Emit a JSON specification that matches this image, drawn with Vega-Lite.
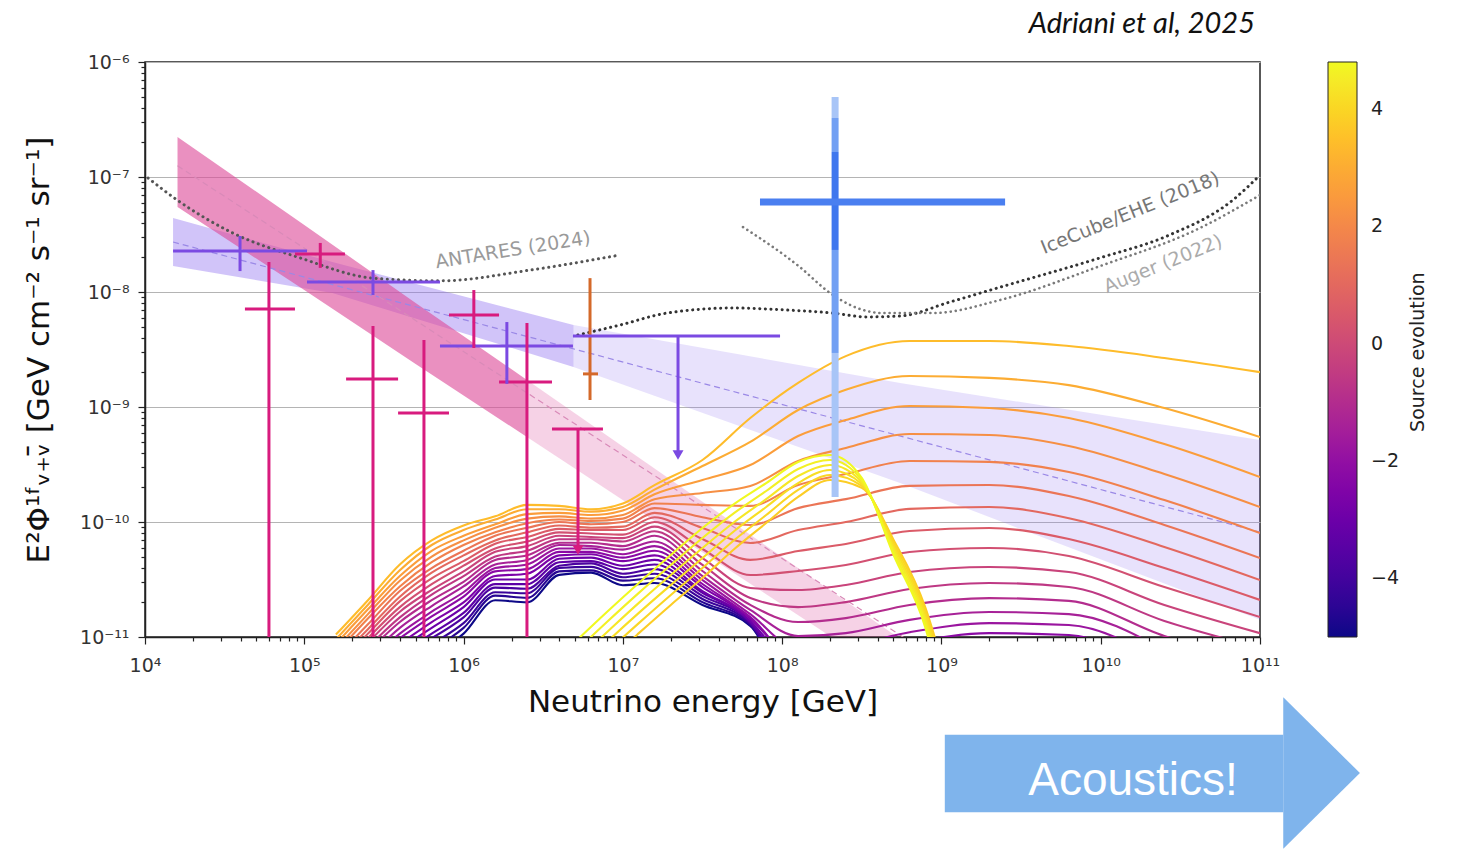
{
  "$schema": "https://vega.github.io/schema/vega-lite/v6.json",
  "width": 1115,
  "height": 575,
  "autosize": "none",
  "padding": {"left": 145, "top": 62, "right": 199, "bottom": 212},
  "background": "white",
  "title": {"text": "Adriani et al, 2025", "anchor": "end", "frame": "group", "font": "Lato", "fontStyle": "italic", "fontWeight": "normal", "fontSize": 29, "color": "#111", "offset": 14, "dx": -5},
  "config": {"view": {"stroke": "#222", "strokeWidth": 1.5}, "font": "DejaVu Sans"},
  "datasets": {
    "tracksFit": [
      {"e": 1.5e4, "lo": 1.68e-8, "hi": 4.40e-8},
      {"e": 1.5e5, "lo": 9.8e-9, "hi": 1.82e-8},
      {"e": 4.9e6, "lo": 2.23e-9, "hi": 5.16e-9}
    ],
    "tracksExt": [
      {"e": 4.9e6, "lo": 2.23e-9, "hi": 5.16e-9},
      {"e": 5.5e8, "lo": 2.18e-10, "hi": 1.62e-9},
      {"e": 1e11, "lo": 1.41e-11, "hi": 5.16e-10}
    ],
    "cascadeFit": [
      {"e": 1.6e4, "lo": 5.48e-8, "hi": 2.23e-7},
      {"e": 1e5, "lo": 1.04e-8, "hi": 3.83e-8},
      {"e": 5e5, "lo": 2.37e-9, "hi": 8.02e-9},
      {"e": 2.5e6, "lo": 5.48e-10, "hi": 1.72e-9}
    ],
    "cascadeExt": [
      {"e": 2.5e6, "lo": 5.48e-10, "hi": 1.72e-9},
      {"e": 3e7, "lo": 5.71e-11, "hi": 1.58e-10},
      {"e": 6e8, "lo": 3.75e-12, "hi": 8.87e-12}
    ],
    "tracksCenter": [{"e": 1.5e4, "f": 2.72e-8}, {"e": 1e11, "f": 8.18e-11}],
    "cascadeCenter": [{"e": 1.6e4, "f": 1.25e-7}, {"e": 6e8, "f": 9.6e-12}],
    "antares": [
      {"e": 1.045e4, "f": 9.8e-8}, {"e": 1.59e4, "f": 6.31e-8}, {"e": 3.56e4, "f": 3.26e-8},
      {"e": 9.4e4, "f": 1.98e-8}, {"e": 2.7e5, "f": 1.32e-8}, {"e": 7.11e5, "f": 1.25e-8},
      {"e": 2.61e6, "f": 1.55e-8}, {"e": 9.6e6, "f": 2.10e-8}
    ],
    "ehe": [
      {"e": 5.22e6, "f": 4.23e-9}, {"e": 9.6e6, "f": 5.16e-9}, {"e": 1.89e7, "f": 6.56e-9},
      {"e": 4.91e7, "f": 7.26e-9}, {"e": 1.07e8, "f": 6.97e-9}, {"e": 2.08e8, "f": 6.56e-9},
      {"e": 3.41e8, "f": 6.07e-9}, {"e": 5.5e8, "f": 6.18e-9}, {"e": 1.13e9, "f": 8.18e-9},
      {"e": 2.33e9, "f": 1.10e-8}, {"e": 9.9e9, "f": 1.98e-8}, {"e": 2.61e10, "f": 3.07e-8},
      {"e": 6.76e10, "f": 6.31e-8}, {"e": 1e11, "f": 1.04e-7}
    ],
    "auger": [
      {"e": 5.68e7, "f": 3.67e-8}, {"e": 1.29e8, "f": 1.65e-8}, {"e": 2.0e8, "f": 9.8e-9},
      {"e": 2.67e8, "f": 7.71e-9}, {"e": 4.3e8, "f": 6.56e-9}, {"e": 8.85e8, "f": 6.56e-9},
      {"e": 2.33e9, "f": 8.51e-9}, {"e": 9.9e9, "f": 1.68e-8}, {"e": 4.2e10, "f": 3.6e-8},
      {"e": 1e11, "f": 6.97e-8}
    ],
    "bars": [
      {"set": "tracks", "e": 3.95e4, "elo": 1.5e4, "ehi": 1.04e5, "f": 2.27e-8, "flo": 1.52e-8, "fhi": 3.07e-8},
      {"set": "tracks", "e": 2.7e5, "elo": 1.04e5, "ehi": 7.11e5, "f": 1.22e-8, "flo": 9.42e-9, "fhi": 1.55e-8},
      {"set": "tracks", "e": 1.87e6, "elo": 7.11e5, "ehi": 4.86e6, "f": 3.39e-9, "flo": 1.59e-9, "fhi": 5.48e-9},
      {"set": "cascades", "e": 6.0e4, "elo": 4.24e4, "ehi": 8.74e4, "f": 7.12e-9, "flo": 1e-11, "fhi": 1.82e-8},
      {"set": "cascades", "e": 1.26e5, "elo": 8.74e4, "ehi": 1.8e5, "f": 2.14e-8, "flo": 1.62e-8, "fhi": 2.67e-8},
      {"set": "cascades", "e": 2.7e5, "elo": 1.83e5, "ehi": 3.88e5, "f": 1.75e-9, "flo": 1e-11, "fhi": 5.06e-9},
      {"set": "cascades", "e": 5.64e5, "elo": 3.88e5, "ehi": 8.1e5, "f": 8.87e-10, "flo": 1e-11, "fhi": 3.82e-9},
      {"set": "cascades", "e": 1.16e6, "elo": 8.1e5, "ehi": 1.67e6, "f": 6.31e-9, "flo": 3.26e-9, "fhi": 1.04e-8},
      {"set": "cascades", "e": 2.5e6, "elo": 1.67e6, "ehi": 3.59e6, "f": 1.65e-9, "flo": 1e-11, "fhi": 5.37e-9},
      {"set": "combined", "e": 6.22e6, "elo": 5.62e6, "ehi": 6.98e6, "f": 1.94e-9, "flo": 1.15e-9, "fhi": 1.32e-8}
    ],
    "upperLimits": [
      {"set": "tracks", "e": 2.22e7, "elo": 4.86e6, "ehi": 9.7e7, "f": 4.14e-9, "fend": 3.83e-10},
      {"set": "cascades", "e": 5.23e6, "elo": 3.59e6, "ehi": 7.5e6, "f": 6.44e-10, "fend": 5.71e-11}
    ],
    "event": [{"e": 2.15e8, "elo": 7.26e7, "ehi": 2.51e9, "f": 6.06e-8}],
    "eventRange": [
      {"e": 2.15e8, "flo": 3.26e-7, "fhi": 4.96e-7, "cl": "3σ"},
      {"e": 2.15e8, "flo": 1.65e-7, "fhi": 3.26e-7, "cl": "2σ"},
      {"e": 2.15e8, "flo": 2.32e-8, "fhi": 1.65e-7, "cl": "1σ"},
      {"e": 2.15e8, "flo": 2.95e-9, "fhi": 2.32e-8, "cl": "2σ"},
      {"e": 2.15e8, "flo": 1.65e-10, "fhi": 2.95e-9, "cl": "3σ"}
    ],
    "arrowBody": [{"e0": 1.05e9, "e1": 1.4e11, "f0": 3.0e-13, "f1": 1.41e-12}],
    "arrowHead": [{"e": 1.4e11, "lo": 1.44e-13, "hi": 3.0e-12}, {"e": 4.24e11, "lo": 6.56e-13, "hi": 6.56e-13}],
    "arrowText": [{"e": 1.595e10, "f": 4.23e-13, "text": "Acoustics!"}],
    "colorbarTitle": [{"e": 9.8e11, "f": 3.0e-9, "text": "Source evolution"}],
    "models": [
      {"m": -5, "e": 6.31e5, "f": 6.92e-12}, {"m": -5, "e": 1e6, "f": 1.07e-11}, {"m": -5, "e": 1.58e6, "f": 2.09e-11}, {"m": -5, "e": 2.51e6, "f": 2.00e-11}, {"m": -5, "e": 3.98e6, "f": 3.47e-11}, {"m": -5, "e": 6.31e6, "f": 3.63e-11}, {"m": -5, "e": 1e7, "f": 2.82e-11}, {"m": -5, "e": 1.58e7, "f": 2.95e-11}, {"m": -5, "e": 3.16e7, "f": 1.90e-11}, {"m": -5, "e": 6.31e7, "f": 1.25e-11}, {"m": -5, "e": 1.26e8, "f": 9.06e-13},
      {"m": -4.6, "e": 6.31e5, "f": 7.76e-12}, {"m": -4.6, "e": 1e6, "f": 1.20e-11}, {"m": -4.6, "e": 1.58e6, "f": 2.29e-11}, {"m": -4.6, "e": 2.51e6, "f": 2.19e-11}, {"m": -4.6, "e": 3.98e6, "f": 3.72e-11}, {"m": -4.6, "e": 6.31e6, "f": 3.80e-11}, {"m": -4.6, "e": 1e7, "f": 3.09e-11}, {"m": -4.6, "e": 1.58e7, "f": 3.24e-11}, {"m": -4.6, "e": 3.16e7, "f": 2.01e-11}, {"m": -4.6, "e": 6.31e7, "f": 1.27e-11}, {"m": -4.6, "e": 1.26e8, "f": 1.22e-12},
      {"m": -4.2, "e": 6.31e5, "f": 8.71e-12}, {"m": -4.2, "e": 1e6, "f": 1.32e-11}, {"m": -4.2, "e": 1.58e6, "f": 2.45e-11}, {"m": -4.2, "e": 2.51e6, "f": 2.40e-11}, {"m": -4.2, "e": 3.98e6, "f": 3.98e-11}, {"m": -4.2, "e": 6.31e6, "f": 4.07e-11}, {"m": -4.2, "e": 1e7, "f": 3.31e-11}, {"m": -4.2, "e": 1.58e7, "f": 3.55e-11}, {"m": -4.2, "e": 3.16e7, "f": 2.14e-11}, {"m": -4.2, "e": 6.31e7, "f": 1.30e-11}, {"m": -4.2, "e": 1.26e8, "f": 1.62e-12},
      {"m": -3.8, "e": 6.31e5, "f": 9.77e-12}, {"m": -3.8, "e": 1e6, "f": 1.48e-11}, {"m": -3.8, "e": 1.58e6, "f": 2.69e-11}, {"m": -3.8, "e": 2.51e6, "f": 2.63e-11}, {"m": -3.8, "e": 3.98e6, "f": 4.17e-11}, {"m": -3.8, "e": 6.31e6, "f": 4.37e-11}, {"m": -3.8, "e": 1e7, "f": 3.55e-11}, {"m": -3.8, "e": 1.58e7, "f": 3.89e-11}, {"m": -3.8, "e": 3.16e7, "f": 2.28e-11}, {"m": -3.8, "e": 6.31e7, "f": 1.32e-11}, {"m": -3.8, "e": 1.26e8, "f": 2.14e-12},
      {"m": -3.4, "e": 3.98e5, "f": 7.08e-12}, {"m": -3.4, "e": 6.31e5, "f": 1.07e-11}, {"m": -3.4, "e": 1e6, "f": 1.62e-11}, {"m": -3.4, "e": 1.58e6, "f": 2.88e-11}, {"m": -3.4, "e": 2.51e6, "f": 2.88e-11}, {"m": -3.4, "e": 3.98e6, "f": 4.47e-11}, {"m": -3.4, "e": 6.31e6, "f": 4.57e-11}, {"m": -3.4, "e": 1e7, "f": 3.89e-11}, {"m": -3.4, "e": 1.58e7, "f": 4.27e-11}, {"m": -3.4, "e": 3.16e7, "f": 2.42e-11}, {"m": -3.4, "e": 6.31e7, "f": 1.35e-11}, {"m": -3.4, "e": 1.26e8, "f": 2.83e-12},
      {"m": -3, "e": 3.98e5, "f": 7.94e-12}, {"m": -3, "e": 6.31e5, "f": 1.20e-11}, {"m": -3, "e": 1e6, "f": 1.82e-11}, {"m": -3, "e": 1.58e6, "f": 3.16e-11}, {"m": -3, "e": 2.51e6, "f": 3.16e-11}, {"m": -3, "e": 3.98e6, "f": 4.79e-11}, {"m": -3, "e": 6.31e6, "f": 4.90e-11}, {"m": -3, "e": 1e7, "f": 4.17e-11}, {"m": -3, "e": 1.58e7, "f": 4.68e-11}, {"m": -3, "e": 3.16e7, "f": 2.51e-11}, {"m": -3, "e": 6.31e7, "f": 1.38e-11}, {"m": -3, "e": 1.26e8, "f": 3.75e-12},
      {"m": -2.6, "e": 3.98e5, "f": 8.71e-12}, {"m": -2.6, "e": 6.31e5, "f": 1.35e-11}, {"m": -2.6, "e": 1e6, "f": 2.00e-11}, {"m": -2.6, "e": 1.58e6, "f": 3.39e-11}, {"m": -2.6, "e": 2.51e6, "f": 3.55e-11}, {"m": -2.6, "e": 3.98e6, "f": 5.13e-11}, {"m": -2.6, "e": 6.31e6, "f": 5.25e-11}, {"m": -2.6, "e": 1e7, "f": 4.57e-11}, {"m": -2.6, "e": 1.58e7, "f": 5.13e-11}, {"m": -2.6, "e": 3.16e7, "f": 2.72e-11}, {"m": -2.6, "e": 6.31e7, "f": 1.44e-11}, {"m": -2.6, "e": 1.26e8, "f": 4.86e-12},
      {"m": -2.2, "e": 3.98e5, "f": 9.77e-12}, {"m": -2.2, "e": 6.31e5, "f": 1.51e-11}, {"m": -2.2, "e": 1e6, "f": 2.24e-11}, {"m": -2.2, "e": 1.58e6, "f": 3.72e-11}, {"m": -2.2, "e": 2.51e6, "f": 3.89e-11}, {"m": -2.2, "e": 3.98e6, "f": 5.50e-11}, {"m": -2.2, "e": 6.31e6, "f": 5.50e-11}, {"m": -2.2, "e": 1e7, "f": 4.90e-11}, {"m": -2.2, "e": 1.58e7, "f": 5.62e-11}, {"m": -2.2, "e": 3.16e7, "f": 2.89e-11}, {"m": -2.2, "e": 6.31e7, "f": 1.49e-11}, {"m": -2.2, "e": 1.26e8, "f": 6.18e-12}, {"m": -2.2, "e": 2.51e8, "f": 6.56e-12}, {"m": -2.2, "e": 6.31e8, "f": 8.87e-12}, {"m": -2.2, "e": 2e9, "f": 1.08e-11}, {"m": -2.2, "e": 6.31e9, "f": 1.04e-11}, {"m": -2.2, "e": 2.51e10, "f": 4.68e-12},
      {"m": -1.8, "e": 2.51e5, "f": 6.03e-12}, {"m": -1.8, "e": 3.98e5, "f": 1.07e-11}, {"m": -1.8, "e": 6.31e5, "f": 1.66e-11}, {"m": -1.8, "e": 1e6, "f": 2.45e-11}, {"m": -1.8, "e": 1.58e6, "f": 3.98e-11}, {"m": -1.8, "e": 2.51e6, "f": 4.27e-11}, {"m": -1.8, "e": 3.98e6, "f": 5.89e-11}, {"m": -1.8, "e": 6.31e6, "f": 5.89e-11}, {"m": -1.8, "e": 1e7, "f": 5.25e-11}, {"m": -1.8, "e": 1.58e7, "f": 6.17e-11}, {"m": -1.8, "e": 3.16e7, "f": 3.13e-11}, {"m": -1.8, "e": 6.31e7, "f": 1.58e-11}, {"m": -1.8, "e": 1.26e8, "f": 7.87e-12}, {"m": -1.8, "e": 2.51e8, "f": 8.36e-12}, {"m": -1.8, "e": 6.31e8, "f": 1.10e-11}, {"m": -1.8, "e": 2e9, "f": 1.32e-11}, {"m": -1.8, "e": 6.31e9, "f": 1.27e-11}, {"m": -1.8, "e": 2.51e10, "f": 5.94e-12},
      {"m": -1.4, "e": 2.51e5, "f": 6.61e-12}, {"m": -1.4, "e": 3.98e5, "f": 1.20e-11}, {"m": -1.4, "e": 6.31e5, "f": 1.86e-11}, {"m": -1.4, "e": 1e6, "f": 2.75e-11}, {"m": -1.4, "e": 1.58e6, "f": 4.27e-11}, {"m": -1.4, "e": 2.51e6, "f": 4.68e-11}, {"m": -1.4, "e": 3.98e6, "f": 6.31e-11}, {"m": -1.4, "e": 6.31e6, "f": 6.17e-11}, {"m": -1.4, "e": 1e7, "f": 5.75e-11}, {"m": -1.4, "e": 1.58e7, "f": 6.76e-11}, {"m": -1.4, "e": 3.16e7, "f": 3.39e-11}, {"m": -1.4, "e": 6.31e7, "f": 1.72e-11}, {"m": -1.4, "e": 1.26e8, "f": 1.02e-11}, {"m": -1.4, "e": 2.51e8, "f": 1.08e-11}, {"m": -1.4, "e": 6.31e8, "f": 1.41e-11}, {"m": -1.4, "e": 2e9, "f": 1.65e-11}, {"m": -1.4, "e": 6.31e9, "f": 1.58e-11}, {"m": -1.4, "e": 2.51e10, "f": 7.71e-12},
      {"m": -1, "e": 2.51e5, "f": 7.41e-12}, {"m": -1, "e": 3.98e5, "f": 1.35e-11}, {"m": -1, "e": 6.31e5, "f": 2.09e-11}, {"m": -1, "e": 1e6, "f": 3.02e-11}, {"m": -1, "e": 1.58e6, "f": 4.68e-11}, {"m": -1, "e": 2.51e6, "f": 5.13e-11}, {"m": -1, "e": 3.98e6, "f": 6.61e-11}, {"m": -1, "e": 6.31e6, "f": 6.61e-11}, {"m": -1, "e": 1e7, "f": 6.17e-11}, {"m": -1, "e": 1.58e7, "f": 7.59e-11}, {"m": -1, "e": 3.16e7, "f": 3.75e-11}, {"m": -1, "e": 6.31e7, "f": 1.90e-11}, {"m": -1, "e": 1.26e8, "f": 1.35e-11}, {"m": -1, "e": 2.51e8, "f": 1.46e-11}, {"m": -1, "e": 6.31e8, "f": 1.90e-11}, {"m": -1, "e": 2e9, "f": 2.18e-11}, {"m": -1, "e": 6.31e9, "f": 2.06e-11}, {"m": -1, "e": 2.51e10, "f": 1.02e-11}, {"m": -1, "e": 1e11, "f": 6.07e-12},
      {"m": -0.6, "e": 2.51e5, "f": 8.13e-12}, {"m": -0.6, "e": 3.98e5, "f": 1.48e-11}, {"m": -0.6, "e": 6.31e5, "f": 2.34e-11}, {"m": -0.6, "e": 1e6, "f": 3.39e-11}, {"m": -0.6, "e": 1.58e6, "f": 5.01e-11}, {"m": -0.6, "e": 2.51e6, "f": 5.62e-11}, {"m": -0.6, "e": 3.98e6, "f": 7.08e-11}, {"m": -0.6, "e": 6.31e6, "f": 7.08e-11}, {"m": -0.6, "e": 1e7, "f": 6.76e-11}, {"m": -0.6, "e": 1.58e7, "f": 8.32e-11}, {"m": -0.6, "e": 3.16e7, "f": 4.23e-11}, {"m": -0.6, "e": 6.31e7, "f": 2.18e-11}, {"m": -0.6, "e": 1.26e8, "f": 1.82e-11}, {"m": -0.6, "e": 2.51e8, "f": 2.01e-11}, {"m": -0.6, "e": 6.31e8, "f": 2.61e-11}, {"m": -0.6, "e": 2e9, "f": 2.95e-11}, {"m": -0.6, "e": 6.31e9, "f": 2.72e-11}, {"m": -0.6, "e": 2.51e10, "f": 1.38e-11}, {"m": -0.6, "e": 1e11, "f": 8.02e-12},
      {"m": -0.2, "e": 2.51e5, "f": 8.91e-12}, {"m": -0.2, "e": 3.98e5, "f": 1.66e-11}, {"m": -0.2, "e": 6.31e5, "f": 2.57e-11}, {"m": -0.2, "e": 1e6, "f": 3.72e-11}, {"m": -0.2, "e": 1.58e6, "f": 5.50e-11}, {"m": -0.2, "e": 2.51e6, "f": 6.17e-11}, {"m": -0.2, "e": 3.98e6, "f": 7.59e-11}, {"m": -0.2, "e": 6.31e6, "f": 7.41e-11}, {"m": -0.2, "e": 1e7, "f": 7.24e-11}, {"m": -0.2, "e": 1.58e7, "f": 9.12e-11}, {"m": -0.2, "e": 3.16e7, "f": 4.86e-11}, {"m": -0.2, "e": 6.31e7, "f": 2.67e-11}, {"m": -0.2, "e": 1.26e8, "f": 2.56e-11}, {"m": -0.2, "e": 2.51e8, "f": 2.83e-11}, {"m": -0.2, "e": 6.31e8, "f": 3.67e-11}, {"m": -0.2, "e": 2e9, "f": 4.06e-11}, {"m": -0.2, "e": 6.31e9, "f": 3.67e-11}, {"m": -0.2, "e": 2.51e10, "f": 1.90e-11}, {"m": -0.2, "e": 1e11, "f": 1.08e-11},
      {"m": 0.2, "e": 2.51e5, "f": 9.77e-12}, {"m": 0.2, "e": 3.98e5, "f": 1.82e-11}, {"m": 0.2, "e": 6.31e5, "f": 2.88e-11}, {"m": 0.2, "e": 1e6, "f": 4.17e-11}, {"m": 0.2, "e": 1.58e6, "f": 5.89e-11}, {"m": 0.2, "e": 2.51e6, "f": 6.76e-11}, {"m": 0.2, "e": 3.98e6, "f": 8.13e-11}, {"m": 0.2, "e": 6.31e6, "f": 7.94e-11}, {"m": 0.2, "e": 1e7, "f": 7.76e-11}, {"m": 0.2, "e": 1.58e7, "f": 1.00e-10}, {"m": 0.2, "e": 3.16e7, "f": 5.82e-11}, {"m": 0.2, "e": 6.31e7, "f": 3.46e-11}, {"m": 0.2, "e": 1.26e8, "f": 3.75e-11}, {"m": 0.2, "e": 2.51e8, "f": 4.23e-11}, {"m": 0.2, "e": 6.31e8, "f": 5.48e-11}, {"m": 0.2, "e": 2e9, "f": 5.94e-11}, {"m": 0.2, "e": 6.31e9, "f": 5.06e-11}, {"m": 0.2, "e": 2.51e10, "f": 2.72e-11}, {"m": 0.2, "e": 1e11, "f": 1.49e-11},
      {"m": 0.6, "e": 1.58e5, "f": 5.50e-12}, {"m": 0.6, "e": 2.51e5, "f": 1.07e-11}, {"m": 0.6, "e": 3.98e5, "f": 2.04e-11}, {"m": 0.6, "e": 6.31e5, "f": 3.24e-11}, {"m": 0.6, "e": 1e6, "f": 4.57e-11}, {"m": 0.6, "e": 1.58e6, "f": 6.46e-11}, {"m": 0.6, "e": 2.51e6, "f": 7.41e-11}, {"m": 0.6, "e": 3.98e6, "f": 8.71e-11}, {"m": 0.6, "e": 6.31e6, "f": 8.51e-11}, {"m": 0.6, "e": 1e7, "f": 8.51e-11}, {"m": 0.6, "e": 1.58e7, "f": 1.10e-10}, {"m": 0.6, "e": 3.16e7, "f": 7.11e-11}, {"m": 0.6, "e": 6.31e7, "f": 4.68e-11}, {"m": 0.6, "e": 1.26e8, "f": 5.60e-11}, {"m": 0.6, "e": 2.51e8, "f": 6.44e-11}, {"m": 0.6, "e": 6.31e8, "f": 8.36e-11}, {"m": 0.6, "e": 2e9, "f": 8.87e-11}, {"m": 0.6, "e": 6.31e9, "f": 7.11e-11}, {"m": 0.6, "e": 2.51e10, "f": 3.98e-11}, {"m": 0.6, "e": 1e11, "f": 2.10e-11},
      {"m": 1, "e": 1.58e5, "f": 6.03e-12}, {"m": 1, "e": 2.51e5, "f": 1.17e-11}, {"m": 1, "e": 3.98e5, "f": 2.24e-11}, {"m": 1, "e": 6.31e5, "f": 3.63e-11}, {"m": 1, "e": 1e6, "f": 5.13e-11}, {"m": 1, "e": 1.58e6, "f": 6.92e-11}, {"m": 1, "e": 2.51e6, "f": 8.13e-11}, {"m": 1, "e": 3.98e6, "f": 9.33e-11}, {"m": 1, "e": 6.31e6, "f": 8.91e-11}, {"m": 1, "e": 1e7, "f": 9.12e-11}, {"m": 1, "e": 1.58e7, "f": 1.20e-10}, {"m": 1, "e": 3.16e7, "f": 8.87e-11}, {"m": 1, "e": 6.31e7, "f": 6.56e-11}, {"m": 1, "e": 1.26e8, "f": 8.51e-11}, {"m": 1, "e": 2.51e8, "f": 1.00e-10}, {"m": 1, "e": 6.31e8, "f": 1.30e-10}, {"m": 1, "e": 2e9, "f": 1.35e-10}, {"m": 1, "e": 6.31e9, "f": 1.08e-10}, {"m": 1, "e": 2.51e10, "f": 6.07e-11}, {"m": 1, "e": 1e11, "f": 3.13e-11},
      {"m": 1.4, "e": 1.58e5, "f": 6.61e-12}, {"m": 1.4, "e": 2.51e5, "f": 1.29e-11}, {"m": 1.4, "e": 3.98e5, "f": 2.51e-11}, {"m": 1.4, "e": 6.31e5, "f": 3.98e-11}, {"m": 1.4, "e": 1e6, "f": 5.62e-11}, {"m": 1.4, "e": 1.58e6, "f": 7.59e-11}, {"m": 1.4, "e": 2.51e6, "f": 8.91e-11}, {"m": 1.4, "e": 3.98e6, "f": 1.00e-10}, {"m": 1.4, "e": 6.31e6, "f": 9.55e-11}, {"m": 1.4, "e": 1e7, "f": 1.00e-10}, {"m": 1.4, "e": 1.58e7, "f": 1.32e-10}, {"m": 1.4, "e": 3.16e7, "f": 1.10e-10}, {"m": 1.4, "e": 6.31e7, "f": 9.42e-11}, {"m": 1.4, "e": 1.26e8, "f": 1.32e-10}, {"m": 1.4, "e": 2.51e8, "f": 1.58e-10}, {"m": 1.4, "e": 6.31e8, "f": 2.06e-10}, {"m": 1.4, "e": 2e9, "f": 2.10e-10}, {"m": 1.4, "e": 6.31e9, "f": 1.68e-10}, {"m": 1.4, "e": 2.51e10, "f": 9.42e-11}, {"m": 1.4, "e": 1e11, "f": 4.86e-11},
      {"m": 1.8, "e": 1.58e5, "f": 7.24e-12}, {"m": 1.8, "e": 2.51e5, "f": 1.45e-11}, {"m": 1.8, "e": 3.98e5, "f": 2.75e-11}, {"m": 1.8, "e": 6.31e5, "f": 4.47e-11}, {"m": 1.8, "e": 1e6, "f": 6.31e-11}, {"m": 1.8, "e": 1.58e6, "f": 8.13e-11}, {"m": 1.8, "e": 2.51e6, "f": 9.77e-11}, {"m": 1.8, "e": 3.98e6, "f": 1.05e-10}, {"m": 1.8, "e": 6.31e6, "f": 1.02e-10}, {"m": 1.8, "e": 1e7, "f": 1.07e-10}, {"m": 1.8, "e": 1.58e7, "f": 1.45e-10}, {"m": 1.8, "e": 3.16e7, "f": 1.41e-10}, {"m": 1.8, "e": 6.31e7, "f": 1.38e-10}, {"m": 1.8, "e": 1.26e8, "f": 2.10e-10}, {"m": 1.8, "e": 2.51e8, "f": 2.61e-10}, {"m": 1.8, "e": 6.31e8, "f": 3.39e-10}, {"m": 1.8, "e": 2e9, "f": 3.33e-10}, {"m": 1.8, "e": 6.31e9, "f": 2.72e-10}, {"m": 1.8, "e": 2.51e10, "f": 1.55e-10}, {"m": 1.8, "e": 1e11, "f": 8.02e-11},
      {"m": 2.2, "e": 1.58e5, "f": 7.94e-12}, {"m": 2.2, "e": 2.51e5, "f": 1.58e-11}, {"m": 2.2, "e": 3.98e5, "f": 3.09e-11}, {"m": 2.2, "e": 6.31e5, "f": 5.01e-11}, {"m": 2.2, "e": 1e6, "f": 6.92e-11}, {"m": 2.2, "e": 1.58e6, "f": 8.91e-11}, {"m": 2.2, "e": 2.51e6, "f": 1.07e-10}, {"m": 2.2, "e": 3.98e6, "f": 1.12e-10}, {"m": 2.2, "e": 6.31e6, "f": 1.07e-10}, {"m": 2.2, "e": 1e7, "f": 1.15e-10}, {"m": 2.2, "e": 1.58e7, "f": 1.58e-10}, {"m": 2.2, "e": 3.16e7, "f": 1.79e-10}, {"m": 2.2, "e": 6.31e7, "f": 2.06e-10}, {"m": 2.2, "e": 1.26e8, "f": 3.39e-10}, {"m": 2.2, "e": 2.51e8, "f": 4.40e-10}, {"m": 2.2, "e": 6.31e8, "f": 5.82e-10}, {"m": 2.2, "e": 2e9, "f": 5.71e-10}, {"m": 2.2, "e": 6.31e9, "f": 4.58e-10}, {"m": 2.2, "e": 2.51e10, "f": 2.61e-10}, {"m": 2.2, "e": 1e11, "f": 1.35e-10},
      {"m": 2.6, "e": 1.58e5, "f": 8.71e-12}, {"m": 2.6, "e": 2.51e5, "f": 1.74e-11}, {"m": 2.6, "e": 3.98e5, "f": 3.39e-11}, {"m": 2.6, "e": 6.31e5, "f": 5.62e-11}, {"m": 2.6, "e": 1e6, "f": 7.59e-11}, {"m": 2.6, "e": 1.58e6, "f": 9.55e-11}, {"m": 2.6, "e": 2.51e6, "f": 1.17e-10}, {"m": 2.6, "e": 3.98e6, "f": 1.20e-10}, {"m": 2.6, "e": 6.31e6, "f": 1.15e-10}, {"m": 2.6, "e": 1e7, "f": 1.26e-10}, {"m": 2.6, "e": 1.58e7, "f": 1.74e-10}, {"m": 2.6, "e": 3.16e7, "f": 2.32e-10}, {"m": 2.6, "e": 6.31e7, "f": 3.13e-10}, {"m": 2.6, "e": 1.26e8, "f": 5.60e-10}, {"m": 2.6, "e": 2.51e8, "f": 7.71e-10}, {"m": 2.6, "e": 6.31e8, "f": 1.02e-9}, {"m": 2.6, "e": 2e9, "f": 9.79e-10}, {"m": 2.6, "e": 6.31e9, "f": 8.02e-10}, {"m": 2.6, "e": 2.51e10, "f": 4.76e-10}, {"m": 2.6, "e": 1e11, "f": 2.46e-10},
      {"m": 3, "e": 1.58e5, "f": 9.55e-12}, {"m": 3, "e": 2.51e5, "f": 1.91e-11}, {"m": 3, "e": 3.98e5, "f": 3.80e-11}, {"m": 3, "e": 6.31e5, "f": 6.31e-11}, {"m": 3, "e": 1e6, "f": 8.51e-11}, {"m": 3, "e": 1.58e6, "f": 1.05e-10}, {"m": 3, "e": 2.51e6, "f": 1.29e-10}, {"m": 3, "e": 3.98e6, "f": 1.29e-10}, {"m": 3, "e": 6.31e6, "f": 1.23e-10}, {"m": 3, "e": 1e7, "f": 1.35e-10}, {"m": 3, "e": 1.58e7, "f": 1.91e-10}, {"m": 3, "e": 3.16e7, "f": 3.07e-10}, {"m": 3, "e": 6.31e7, "f": 4.97e-10}, {"m": 3, "e": 1.26e8, "f": 9.42e-10}, {"m": 3, "e": 2.51e8, "f": 1.41e-9}, {"m": 3, "e": 6.31e8, "f": 1.86e-9}, {"m": 3, "e": 2e9, "f": 1.79e-9}, {"m": 3, "e": 6.31e9, "f": 1.55e-9}, {"m": 3, "e": 2.51e10, "f": 9.79e-10}, {"m": 3, "e": 1e11, "f": 5.48e-10},
      {"m": 3.4, "e": 1.58e5, "f": 1.05e-11}, {"m": 3.4, "e": 2.51e5, "f": 2.09e-11}, {"m": 3.4, "e": 3.98e5, "f": 4.27e-11}, {"m": 3.4, "e": 6.31e5, "f": 6.92e-11}, {"m": 3.4, "e": 1e6, "f": 9.33e-11}, {"m": 3.4, "e": 1.58e6, "f": 1.12e-10}, {"m": 3.4, "e": 2.51e6, "f": 1.41e-10}, {"m": 3.4, "e": 3.98e6, "f": 1.38e-10}, {"m": 3.4, "e": 6.31e6, "f": 1.29e-10}, {"m": 3.4, "e": 1e7, "f": 1.45e-10}, {"m": 3.4, "e": 1.58e7, "f": 2.09e-10}, {"m": 3.4, "e": 3.16e7, "f": 3.46e-10}, {"m": 3.4, "e": 6.31e7, "f": 8.02e-10}, {"m": 3.4, "e": 1.26e8, "f": 1.62e-9}, {"m": 3.4, "e": 2.51e8, "f": 2.77e-9}, {"m": 3.4, "e": 6.31e8, "f": 3.75e-9}, {"m": 3.4, "e": 2e9, "f": 3.75e-9}, {"m": 3.4, "e": 6.31e9, "f": 3.39e-9}, {"m": 3.4, "e": 2.51e10, "f": 2.67e-9}, {"m": 3.4, "e": 1e11, "f": 2.01e-9},
      {"m": 3.8, "e": 5.01e6, "f": 3.33e-12}, {"m": 3.8, "e": 7.94e6, "f": 6.07e-12}, {"m": 3.8, "e": 1.26e7, "f": 1.08e-11}, {"m": 3.8, "e": 2e7, "f": 1.90e-11}, {"m": 3.8, "e": 3.16e7, "f": 3.26e-11}, {"m": 3.8, "e": 5.01e7, "f": 5.82e-11}, {"m": 3.8, "e": 7.94e7, "f": 9.79e-11}, {"m": 3.8, "e": 1.26e8, "f": 1.65e-10}, {"m": 3.8, "e": 2e8, "f": 2.32e-10}, {"m": 3.8, "e": 3.16e8, "f": 1.98e-10}, {"m": 3.8, "e": 5.01e8, "f": 6.97e-11}, {"m": 3.8, "e": 7.94e8, "f": 1.79e-11}, {"m": 3.8, "e": 1e9, "f": 6.31e-12},
      {"m": 4, "e": 5.01e6, "f": 4.06e-12}, {"m": 4, "e": 7.94e6, "f": 7.41e-12}, {"m": 4, "e": 1.26e7, "f": 1.32e-11}, {"m": 4, "e": 2e7, "f": 2.32e-11}, {"m": 4, "e": 3.16e7, "f": 3.98e-11}, {"m": 4, "e": 5.01e7, "f": 6.97e-11}, {"m": 4, "e": 7.94e7, "f": 1.15e-10}, {"m": 4, "e": 1.26e8, "f": 1.90e-10}, {"m": 4, "e": 2e8, "f": 2.56e-10}, {"m": 4, "e": 3.16e8, "f": 2.06e-10}, {"m": 4, "e": 5.01e8, "f": 6.56e-11}, {"m": 4, "e": 7.94e8, "f": 1.65e-11}, {"m": 4, "e": 1e9, "f": 5.60e-12},
      {"m": 4.2, "e": 5.01e6, "f": 4.96e-12}, {"m": 4.2, "e": 7.94e6, "f": 9.05e-12}, {"m": 4.2, "e": 1.26e7, "f": 1.62e-11}, {"m": 4.2, "e": 2e7, "f": 2.83e-11}, {"m": 4.2, "e": 3.16e7, "f": 4.86e-11}, {"m": 4.2, "e": 5.01e7, "f": 8.36e-11}, {"m": 4.2, "e": 7.94e7, "f": 1.35e-10}, {"m": 4.2, "e": 1.26e8, "f": 2.18e-10}, {"m": 4.2, "e": 2e8, "f": 2.83e-10}, {"m": 4.2, "e": 3.16e8, "f": 2.14e-10}, {"m": 4.2, "e": 5.01e8, "f": 6.18e-11}, {"m": 4.2, "e": 7.94e8, "f": 1.52e-11}, {"m": 4.2, "e": 1e9, "f": 4.96e-12},
      {"m": 4.4, "e": 5.01e6, "f": 6.07e-12}, {"m": 4.4, "e": 7.94e6, "f": 1.10e-11}, {"m": 4.4, "e": 1.26e7, "f": 1.98e-11}, {"m": 4.4, "e": 2e7, "f": 3.46e-11}, {"m": 4.4, "e": 3.16e7, "f": 5.94e-11}, {"m": 4.4, "e": 5.01e7, "f": 1.00e-10}, {"m": 4.4, "e": 7.94e7, "f": 1.58e-10}, {"m": 4.4, "e": 1.26e8, "f": 2.51e-10}, {"m": 4.4, "e": 2e8, "f": 3.13e-10}, {"m": 4.4, "e": 3.16e8, "f": 2.23e-10}, {"m": 4.4, "e": 5.01e8, "f": 5.82e-11}, {"m": 4.4, "e": 7.94e8, "f": 1.41e-11}, {"m": 4.4, "e": 1e9, "f": 4.40e-12},
      {"m": 4.6, "e": 5.01e6, "f": 7.41e-12}, {"m": 4.6, "e": 7.94e6, "f": 1.35e-11}, {"m": 4.6, "e": 1.26e7, "f": 2.42e-11}, {"m": 4.6, "e": 2e7, "f": 4.23e-11}, {"m": 4.6, "e": 3.16e7, "f": 7.26e-11}, {"m": 4.6, "e": 5.01e7, "f": 1.20e-10}, {"m": 4.6, "e": 7.94e7, "f": 1.86e-10}, {"m": 4.6, "e": 1.26e8, "f": 2.89e-10}, {"m": 4.6, "e": 2e8, "f": 3.46e-10}, {"m": 4.6, "e": 3.16e8, "f": 2.32e-10}, {"m": 4.6, "e": 5.01e8, "f": 5.48e-11}, {"m": 4.6, "e": 7.94e8, "f": 1.30e-11}, {"m": 4.6, "e": 1e9, "f": 3.90e-12},
      {"m": 4.8, "e": 5.01e6, "f": 9.05e-12}, {"m": 4.8, "e": 7.94e6, "f": 1.65e-11}, {"m": 4.8, "e": 1.26e7, "f": 2.95e-11}, {"m": 4.8, "e": 2e7, "f": 5.16e-11}, {"m": 4.8, "e": 3.16e7, "f": 8.87e-11}, {"m": 4.8, "e": 5.01e7, "f": 1.44e-10}, {"m": 4.8, "e": 7.94e7, "f": 2.18e-10}, {"m": 4.8, "e": 1.26e8, "f": 3.33e-10}, {"m": 4.8, "e": 2e8, "f": 3.83e-10}, {"m": 4.8, "e": 3.16e8, "f": 2.42e-10}, {"m": 4.8, "e": 5.01e8, "f": 5.16e-11}, {"m": 4.8, "e": 7.94e8, "f": 1.20e-11}, {"m": 4.8, "e": 1e9, "f": 3.46e-12}
    ]
  },
  "layer": [
    {
      "data": {"name": "tracksExt"},
      "mark": {"type": "area", "clip": true, "color": "#8c6cf0", "opacity": 0.2},
      "encoding": {
        "x": {
          "field": "e", "type": "quantitative",
          "scale": {"type": "log", "domain": [1e4, 1e11]},
          "axis": {
            "title": "Neutrino energy [GeV]",
            "values": [1e4,2e4,3e4,4e4,5e4,6e4,7e4,8e4,9e4,1e5,2e5,3e5,4e5,5e5,6e5,7e5,8e5,9e5,1e6,2e6,3e6,4e6,5e6,6e6,7e6,8e6,9e6,1e7,2e7,3e7,4e7,5e7,6e7,7e7,8e7,9e7,1e8,2e8,3e8,4e8,5e8,6e8,7e8,8e8,9e8,1e9,2e9,3e9,4e9,5e9,6e9,7e9,8e9,9e9,1e10,2e10,3e10,4e10,5e10,6e10,7e10,8e10,9e10,1e11],
            "labelExpr": "abs(log(datum.value)/LN10 - round(log(datum.value)/LN10)) < 0.01 ? '10' + ['⁴','⁵','⁶','⁷','⁸','⁹','¹⁰','¹¹'][round(log(datum.value)/LN10) - 4] : ''",
            "labelFont": "DejaVu Sans", "labelFontSize": 19, "labelColor": "#333",
            "labelOverlap": false, "labelFlush": false, "labelBound": false, "labelPadding": 12,
            "tickColor": "#222", "tickWidth": 1.2, "tickSize": 7,
            "tickDash": {"condition": {"test": "abs(log(datum.value)/LN10 - round(log(datum.value)/LN10)) > 0.01", "value": [4, 20]}, "value": []},
            "domainColor": "#222", "domainWidth": 1.5,
            "grid": false,
            "titleFont": "DejaVu Sans", "titleFontSize": 31, "titleFontWeight": "normal", "titleColor": "#111", "titlePadding": 12
          }
        },
        "y": {
          "field": "lo", "type": "quantitative",
          "scale": {"type": "log", "domain": [1e-11, 1e-6]},
          "axis": {
            "title": "E²Φ¹ᶠᵥ₊ᵥ̄ [GeV cm⁻² s⁻¹ sr⁻¹]",
            "values": [1e-11,2e-11,3e-11,4e-11,5e-11,6e-11,7e-11,8e-11,9e-11,1e-10,2e-10,3e-10,4e-10,5e-10,6e-10,7e-10,8e-10,9e-10,1e-9,2e-9,3e-9,4e-9,5e-9,6e-9,7e-9,8e-9,9e-9,1e-8,2e-8,3e-8,4e-8,5e-8,6e-8,7e-8,8e-8,9e-8,1e-7,2e-7,3e-7,4e-7,5e-7,6e-7,7e-7,8e-7,9e-7,1e-6],
            "labelExpr": "abs(log(datum.value)/LN10 - round(log(datum.value)/LN10)) < 0.01 ? '10⁻' + ['¹¹','¹⁰','⁹','⁸','⁷','⁶'][round(log(datum.value)/LN10) + 11] : ''",
            "labelFont": "DejaVu Sans", "labelFontSize": 19, "labelColor": "#333",
            "labelOverlap": false, "labelFlush": false, "labelBound": false, "labelPadding": 9,
            "tickColor": "#222", "tickWidth": 1.2, "tickSize": 7,
            "tickDash": {"condition": {"test": "abs(log(datum.value)/LN10 - round(log(datum.value)/LN10)) > 0.01", "value": [4, 20]}, "value": []},
            "domainColor": "#222", "domainWidth": 1.5,
            "grid": true, "gridColor": "#b4b4b4", "gridWidth": 1.2,
            "gridOpacity": {"condition": {"test": "abs(log(datum.value)/LN10 - round(log(datum.value)/LN10)) < 0.01", "value": 1}, "value": 0},
            "titleFont": "DejaVu Sans", "titleFontSize": 31, "titleFontWeight": "normal", "titleColor": "#111", "titlePadding": 24
          }
        },
        "y2": {"field": "hi"}
      }
    },
    {
      "data": {"name": "cascadeExt"},
      "mark": {"type": "area", "clip": true, "color": "#dd4c9a", "opacity": 0.25},
      "encoding": {
        "x": {"field": "e", "type": "quantitative", "scale": {"type": "log", "domain": [1e4, 1e11]}},
        "y": {"field": "lo", "type": "quantitative", "scale": {"type": "log", "domain": [1e-11, 1e-6]}},
        "y2": {"field": "hi"}
      }
    },
    {
      "data": {"name": "tracksFit"},
      "mark": {"type": "area", "clip": true, "color": "#8c6cf0", "opacity": 0.4},
      "encoding": {
        "x": {"field": "e", "type": "quantitative", "scale": {"type": "log", "domain": [1e4, 1e11]}},
        "y": {"field": "lo", "type": "quantitative", "scale": {"type": "log", "domain": [1e-11, 1e-6]}},
        "y2": {"field": "hi"}
      }
    },
    {
      "data": {"name": "cascadeFit"},
      "mark": {"type": "area", "clip": true, "color": "#dd4c9a", "opacity": 0.62},
      "encoding": {
        "x": {"field": "e", "type": "quantitative", "scale": {"type": "log", "domain": [1e4, 1e11]}},
        "y": {"field": "lo", "type": "quantitative", "scale": {"type": "log", "domain": [1e-11, 1e-6]}},
        "y2": {"field": "hi"}
      }
    },
    {
      "data": {"name": "tracksCenter"},
      "mark": {"type": "line", "clip": true, "color": "#9a88e6", "strokeWidth": 1.2, "strokeDash": [6, 4]},
      "encoding": {
        "x": {"field": "e", "type": "quantitative", "scale": {"type": "log", "domain": [1e4, 1e11]}},
        "y": {"field": "f", "type": "quantitative", "scale": {"type": "log", "domain": [1e-11, 1e-6]}}
      }
    },
    {
      "data": {"name": "cascadeCenter"},
      "mark": {"type": "line", "clip": true, "color": "#d98ab8", "strokeWidth": 1.2, "strokeDash": [6, 4]},
      "encoding": {
        "x": {"field": "e", "type": "quantitative", "scale": {"type": "log", "domain": [1e4, 1e11]}},
        "y": {"field": "f", "type": "quantitative", "scale": {"type": "log", "domain": [1e-11, 1e-6]}}
      }
    },
    {
      "data": {"name": "models"},
      "mark": {"type": "line", "clip": true, "strokeWidth": 2.1, "interpolate": "monotone"},
      "encoding": {
        "x": {"field": "e", "type": "quantitative", "scale": {"type": "log", "domain": [1e4, 1e11]}},
        "y": {"field": "f", "type": "quantitative", "scale": {"type": "log", "domain": [1e-11, 1e-6]}},
        "color": {
          "field": "m", "type": "quantitative",
          "scale": {"scheme": "plasma", "domain": [-5, 4.8]},
          "legend": {
            "title": null, "orient": "none", "legendX": 1183, "legendY": 0,
            "direction": "vertical", "gradientLength": 575, "gradientThickness": 29,
            "values": [-4, -2, 0, 2, 4],
            "labelExpr": "replace(datum.label, '-', '−')",
            "labelFont": "DejaVu Sans", "labelFontSize": 19, "labelColor": "#222", "labelOffset": 14,
            "gradientStrokeColor": "#222", "gradientStrokeWidth": 1
          }
        }
      }
    },
    {
      "data": {"name": "antares"},
      "mark": {"type": "line", "clip": true, "color": "#555", "strokeWidth": 3, "strokeDash": [0.1, 5.5], "strokeCap": "round", "interpolate": "monotone"},
      "encoding": {
        "x": {"field": "e", "type": "quantitative", "scale": {"type": "log", "domain": [1e4, 1e11]}},
        "y": {"field": "f", "type": "quantitative", "scale": {"type": "log", "domain": [1e-11, 1e-6]}}
      }
    },
    {
      "data": {"name": "ehe"},
      "mark": {"type": "line", "clip": true, "color": "#333", "strokeWidth": 3, "strokeDash": [0.1, 5.5], "strokeCap": "round", "interpolate": "monotone"},
      "encoding": {
        "x": {"field": "e", "type": "quantitative", "scale": {"type": "log", "domain": [1e4, 1e11]}},
        "y": {"field": "f", "type": "quantitative", "scale": {"type": "log", "domain": [1e-11, 1e-6]}}
      }
    },
    {
      "data": {"name": "auger"},
      "mark": {"type": "line", "clip": true, "color": "#7a7a7a", "strokeWidth": 2.6, "strokeDash": [0.1, 5], "strokeCap": "round", "interpolate": "monotone"},
      "encoding": {
        "x": {"field": "e", "type": "quantitative", "scale": {"type": "log", "domain": [1e4, 1e11]}},
        "y": {"field": "f", "type": "quantitative", "scale": {"type": "log", "domain": [1e-11, 1e-6]}}
      }
    },
    {
      "data": {"values": [{"e": 2.04e6, "f": 2.32e-8, "text": "ANTARES (2024)"}]},
      "mark": {"type": "text", "font": "DejaVu Sans", "fontSize": 19, "color": "#9a9a9a", "angle": 351, "align": "center", "baseline": "middle"},
      "encoding": {
        "x": {"field": "e", "type": "quantitative", "scale": {"type": "log", "domain": [1e4, 1e11]}},
        "y": {"field": "f", "type": "quantitative", "scale": {"type": "log", "domain": [1e-11, 1e-6]}},
        "text": {"field": "text"}
      }
    },
    {
      "data": {"values": [{"e": 1.53e10, "f": 4.86e-8, "text": "IceCube/EHE (2018)"}]},
      "mark": {"type": "text", "font": "DejaVu Sans", "fontSize": 19, "color": "#777", "angle": 338, "align": "center", "baseline": "middle"},
      "encoding": {
        "x": {"field": "e", "type": "quantitative", "scale": {"type": "log", "domain": [1e4, 1e11]}},
        "y": {"field": "f", "type": "quantitative", "scale": {"type": "log", "domain": [1e-11, 1e-6]}},
        "text": {"field": "text"}
      }
    },
    {
      "data": {"values": [{"e": 2.46e10, "f": 1.75e-8, "text": "Auger (2022)"}]},
      "mark": {"type": "text", "font": "DejaVu Sans", "fontSize": 19, "color": "#ababab", "angle": 338, "align": "center", "baseline": "middle"},
      "encoding": {
        "x": {"field": "e", "type": "quantitative", "scale": {"type": "log", "domain": [1e4, 1e11]}},
        "y": {"field": "f", "type": "quantitative", "scale": {"type": "log", "domain": [1e-11, 1e-6]}},
        "text": {"field": "text"}
      }
    },
    {
      "data": {"name": "bars"},
      "mark": {"type": "rule", "strokeWidth": 3},
      "encoding": {
        "x": {"field": "elo", "type": "quantitative", "scale": {"type": "log", "domain": [1e4, 1e11]}},
        "x2": {"field": "ehi"},
        "y": {"field": "f", "type": "quantitative", "scale": {"type": "log", "domain": [1e-11, 1e-6]}},
        "color": {"field": "set", "type": "nominal", "scale": {"domain": ["tracks", "cascades", "combined"], "range": ["#7b4ae2", "#d81b7e", "#d4692a"]}, "legend": null}
      }
    },
    {
      "data": {"name": "bars"},
      "mark": {"type": "rule", "strokeWidth": 3},
      "encoding": {
        "x": {"field": "e", "type": "quantitative", "scale": {"type": "log", "domain": [1e4, 1e11]}},
        "y": {"field": "flo", "type": "quantitative", "scale": {"type": "log", "domain": [1e-11, 1e-6]}},
        "y2": {"field": "fhi"},
        "color": {"field": "set", "type": "nominal", "scale": {"domain": ["tracks", "cascades", "combined"], "range": ["#7b4ae2", "#d81b7e", "#d4692a"]}, "legend": null}
      }
    },
    {
      "data": {"name": "upperLimits"},
      "mark": {"type": "rule", "strokeWidth": 3},
      "encoding": {
        "x": {"field": "elo", "type": "quantitative", "scale": {"type": "log", "domain": [1e4, 1e11]}},
        "x2": {"field": "ehi"},
        "y": {"field": "f", "type": "quantitative", "scale": {"type": "log", "domain": [1e-11, 1e-6]}},
        "color": {"field": "set", "type": "nominal", "scale": {"domain": ["tracks", "cascades", "combined"], "range": ["#7b4ae2", "#d81b7e", "#d4692a"]}, "legend": null}
      }
    },
    {
      "data": {"name": "upperLimits"},
      "mark": {"type": "rule", "strokeWidth": 3},
      "encoding": {
        "x": {"field": "e", "type": "quantitative", "scale": {"type": "log", "domain": [1e4, 1e11]}},
        "y": {"field": "fend", "type": "quantitative", "scale": {"type": "log", "domain": [1e-11, 1e-6]}},
        "y2": {"field": "f"},
        "color": {"field": "set", "type": "nominal", "scale": {"domain": ["tracks", "cascades", "combined"], "range": ["#7b4ae2", "#d81b7e", "#d4692a"]}, "legend": null}
      }
    },
    {
      "data": {"name": "upperLimits"},
      "mark": {"type": "point", "shape": "triangle-down", "filled": true, "opacity": 1, "size": 120},
      "encoding": {
        "x": {"field": "e", "type": "quantitative", "scale": {"type": "log", "domain": [1e4, 1e11]}},
        "y": {"field": "fend", "type": "quantitative", "scale": {"type": "log", "domain": [1e-11, 1e-6]}},
        "color": {"field": "set", "type": "nominal", "scale": {"domain": ["tracks", "cascades", "combined"], "range": ["#7b4ae2", "#d81b7e", "#d4692a"]}, "legend": null}
      }
    },
    {
      "data": {"name": "eventRange"},
      "mark": {"type": "rule", "strokeWidth": 7, "strokeCap": "butt"},
      "encoding": {
        "x": {"field": "e", "type": "quantitative", "scale": {"type": "log", "domain": [1e4, 1e11]}},
        "y": {"field": "flo", "type": "quantitative", "scale": {"type": "log", "domain": [1e-11, 1e-6]}},
        "y2": {"field": "fhi"},
        "color": {"field": "cl", "type": "nominal", "scale": {"domain": ["1σ", "2σ", "3σ"], "range": ["#3f77ee", "#72a0f3", "#a8c5f7"]}, "legend": null}
      }
    },
    {
      "data": {"name": "event"},
      "mark": {"type": "rule", "strokeWidth": 7, "strokeCap": "butt", "color": "#4a7ff0"},
      "encoding": {
        "x": {"field": "elo", "type": "quantitative", "scale": {"type": "log", "domain": [1e4, 1e11]}},
        "x2": {"field": "ehi"},
        "y": {"field": "f", "type": "quantitative", "scale": {"type": "log", "domain": [1e-11, 1e-6]}}
      }
    },
    {
      "data": {"name": "colorbarTitle"},
      "mark": {"type": "text", "clip": false, "font": "DejaVu Sans", "fontSize": 19, "color": "#222", "angle": 270, "align": "center", "baseline": "middle"},
      "encoding": {
        "x": {"field": "e", "type": "quantitative", "scale": {"type": "log", "domain": [1e4, 1e11]}},
        "y": {"field": "f", "type": "quantitative", "scale": {"type": "log", "domain": [1e-11, 1e-6]}},
        "text": {"field": "text"}
      }
    },
    {
      "data": {"name": "arrowBody"},
      "mark": {"type": "rect", "clip": false, "color": "#7fb4ec"},
      "encoding": {
        "x": {"field": "e0", "type": "quantitative", "scale": {"type": "log", "domain": [1e4, 1e11]}},
        "x2": {"field": "e1"},
        "y": {"field": "f0", "type": "quantitative", "scale": {"type": "log", "domain": [1e-11, 1e-6]}},
        "y2": {"field": "f1"}
      }
    },
    {
      "data": {"name": "arrowHead"},
      "mark": {"type": "area", "clip": false, "color": "#7fb4ec", "opacity": 1},
      "encoding": {
        "x": {"field": "e", "type": "quantitative", "scale": {"type": "log", "domain": [1e4, 1e11]}},
        "y": {"field": "lo", "type": "quantitative", "scale": {"type": "log", "domain": [1e-11, 1e-6]}},
        "y2": {"field": "hi"}
      }
    },
    {
      "data": {"name": "arrowText"},
      "mark": {"type": "text", "clip": false, "font": "Liberation Sans", "fontSize": 46, "color": "white", "align": "center", "baseline": "alphabetic"},
      "encoding": {
        "x": {"field": "e", "type": "quantitative", "scale": {"type": "log", "domain": [1e4, 1e11]}},
        "y": {"field": "f", "type": "quantitative", "scale": {"type": "log", "domain": [1e-11, 1e-6]}},
        "text": {"field": "text"}
      }
    }
  ],
  "resolve": {"scale": {"color": "independent"}}
}
